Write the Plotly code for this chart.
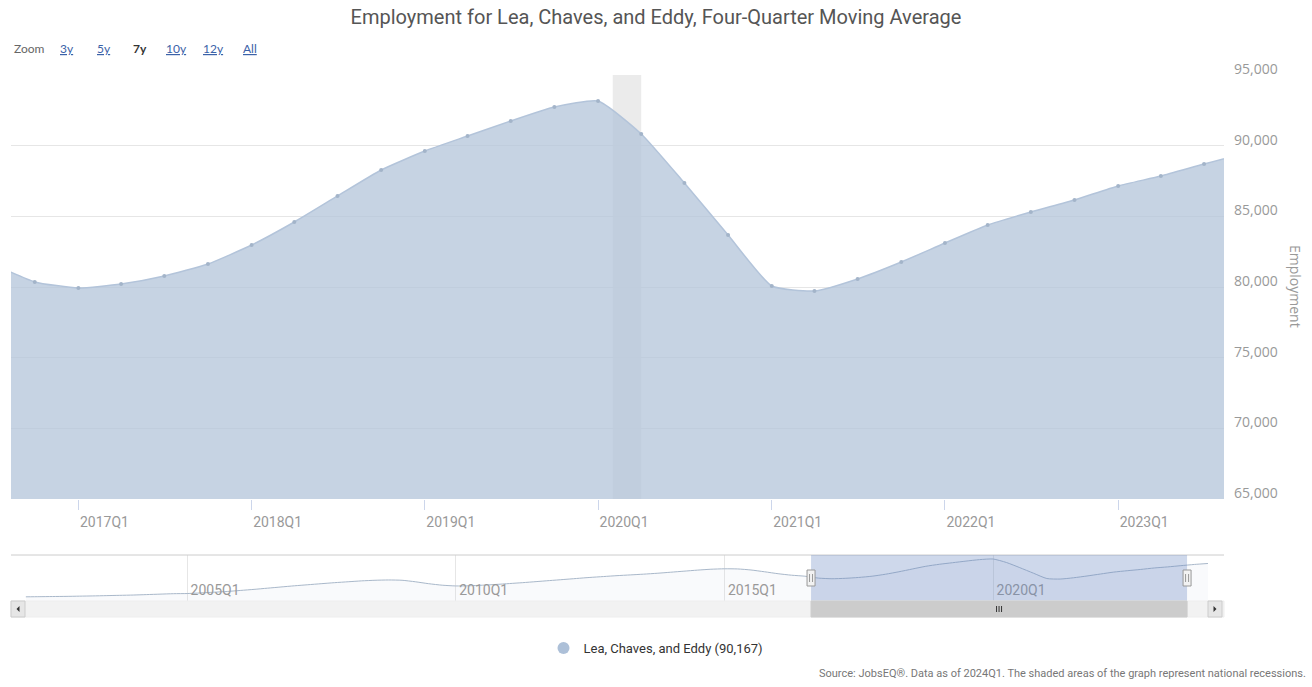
import pandas as pd
import plotly.graph_objects as go

# ---------------------------------------------------------------------------
# Data: four-quarter moving average of employment, Lea + Chaves + Eddy counties
# ---------------------------------------------------------------------------
first_quarter = "2002Q1"
last_quarter = "2024Q1"

employment = [
    67800, 67900, 68000, 68100,   # 2002
    68250, 68400, 68600, 68800,   # 2003
    69000, 69300, 69600, 69900,   # 2004
    70000, 70400, 70900, 71400,   # 2005
    72100, 72800, 73600, 74400,   # 2006
    75200, 75900, 76600, 77300,   # 2007
    77900, 78500, 78900, 79100,   # 2008
    78900, 77900, 76600, 75600,   # 2009
    75100, 75200, 75600, 76100,   # 2010
    76700, 77300, 78000, 78700,   # 2011
    79400, 80100, 80800, 81400,   # 2012
    82000, 82500, 83000, 83600,   # 2013
    84300, 85000, 85700, 86300,   # 2014
    86600, 86500, 85800, 84600,   # 2015
    83300, 82300, 81630, 80360,   # 2016
    79930, 80210, 80780, 81630,   # 2017
    82970, 84600, 86440, 88280,   # 2018
    89620, 90680, 91750, 92740,   # 2019
    93160, 90830, 87360, 83680,   # 2020
    80070, 79720, 80570, 81770,   # 2021
    83110, 84390, 85310, 86160,   # 2022
    87150, 87850, 88700, 89510,   # 2023
    90167,                        # 2024
]

series_name = "Lea, Chaves, and Eddy"

# national recessions (shaded bands)
recession_starts = ["2007-12-01", "2020-02-01"]
recession_ends = ["2009-06-01", "2020-04-01"]

# main-axis ticks
main_tick_dates = ["2017-01-01", "2018-01-01", "2019-01-01", "2020-01-01",
                   "2021-01-01", "2022-01-01", "2023-01-01"]
main_tick_labels = ["2017Q1", "2018Q1", "2019Q1", "2020Q1",
                    "2021Q1", "2022Q1", "2023Q1"]

# navigator ticks
nav_tick_dates = ["2005-01-01", "2010-01-01", "2015-01-01", "2020-01-01"]
nav_tick_labels = ["2005Q1", "2010Q1", "2015Q1", "2020Q1"]

y_tick_values = [65000, 70000, 75000, 80000, 85000, 90000, 95000]

zoom_buttons = ["3y", "5y", "7y", "10y", "12y", "All"]
active_button = "7y"

# visible window (7 years) and navigator extent
view_start, view_end = "2016-08-12", "2023-08-12"
nav_start, nav_end = "2001-09-22", "2024-04-19"

quarters = pd.period_range(first_quarter, last_quarter, freq="Q")
dates = quarters.to_timestamp()
quarter_labels = [str(q) for q in quarters]

# ---------------------------------------------------------------------------
# Geometry helpers (pixel -> paper)
# ---------------------------------------------------------------------------
W, H = 1312, 687
ML, MR, MT, MB = 11, 88, 75, 70
PW, PH = W - ML - MR, H - MT - MB


def px(x):
    return (x - ML) / PW


def py(y):
    return (H - MB - y) / PH


AREA_FILL = "rgba(179,196,218,0.75)"
AREA_LINE = "#b3c4da"
TICK_GRAY = "#999999"
FONT = "Roboto"

fig = go.Figure()

# main area series
fig.add_trace(go.Scatter(
    x=dates, y=employment, customdata=quarter_labels,
    mode="lines+markers", fill="tozeroy", fillcolor=AREA_FILL,
    line=dict(color=AREA_LINE, width=1.5, shape="spline", smoothing=0.5),
    marker=dict(size=4, color="#a3b4c9"),
    name=series_name, showlegend=False,
    hovertemplate="%{customdata}<br>" + series_name + ": %{y:,}<extra></extra>",
    xaxis="x", yaxis="y",
))

# navigator series (full history)
fig.add_trace(go.Scatter(
    x=dates, y=employment, mode="lines", fill="tozeroy",
    fillcolor="rgba(179,196,218,0.08)",
    line=dict(color="#a9b8ca", width=1, shape="spline", smoothing=0.6),
    showlegend=False, hoverinfo="skip",
    xaxis="x2", yaxis="y2",
))

# legend entry carrying the latest value
fig.add_trace(go.Scatter(
    x=[None], y=[None], mode="markers",
    marker=dict(size=12, color="#adc0d8", symbol="circle"),
    name=f"{series_name} ({employment[-1]:,})",
    showlegend=True, xaxis="x", yaxis="y",
))

shapes = []

# recession bands
for s, e in zip(recession_starts, recession_ends):
    shapes.append(dict(type="rect", xref="x", yref="y domain",
                       x0=s, x1=e, y0=0, y1=1, fillcolor="#ebebeb",
                       line=dict(width=0), layer="below"))

# navigator frame line
shapes.append(dict(type="line", xref="x2 domain", yref="y2 domain",
                   x0=0, x1=1, y0=1, y1=1,
                   line=dict(color="#cccccc", width=1)))

# navigator selection mask
shapes.append(dict(type="rect", xref="x2", yref="y2 domain",
                   x0=view_start, x1=view_end, y0=0, y1=1,
                   fillcolor="rgba(102,133,194,0.32)", line=dict(width=0),
                   layer="above"))

# scrollbar track
shapes.append(dict(type="rect", xref="x2 domain", yref="paper",
                   x0=0, x1=1, y0=py(617), y1=py(601),
                   fillcolor="#f2f2f2", line=dict(color="#eeeeee", width=1)))

# scrollbar thumb
shapes.append(dict(type="rect", xref="x2", yref="paper",
                   x0=view_start, x1=view_end, y0=py(617), y1=py(601),
                   fillcolor="#cccccc", line=dict(color="#cccccc", width=1)))

# thumb grip
mid = pd.Timestamp(view_start) + (pd.Timestamp(view_end) - pd.Timestamp(view_start)) / 2
for dx in (-2.5, 0, 2.5):
    shapes.append(dict(type="line", xref="x2", yref="paper", xsizemode="pixel",
                       xanchor=mid, x0=dx, x1=dx, y0=py(612), y1=py(606),
                       line=dict(color="#333333", width=1)))

# scrollbar arrow buttons
for bx0, bx1 in ((11, 25), (1208, 1222)):
    shapes.append(dict(type="rect", xref="paper", yref="paper",
                       x0=px(bx0), x1=px(bx1), y0=py(617), y1=py(601),
                       fillcolor="#e6e6e6", line=dict(color="#cccccc", width=1)))
shapes.append(dict(type="path", xref="paper", yref="paper",
                   xsizemode="pixel", ysizemode="pixel",
                   xanchor=px(18), yanchor=py(609),
                   path="M 1.5 -3 L -1.5 0 L 1.5 3 Z",
                   fillcolor="#333333", line=dict(width=0)))
shapes.append(dict(type="path", xref="paper", yref="paper",
                   xsizemode="pixel", ysizemode="pixel",
                   xanchor=px(1215), yanchor=py(609),
                   path="M -1.5 -3 L 1.5 0 L -1.5 3 Z",
                   fillcolor="#333333", line=dict(width=0)))

# navigator handles
for edge in (view_start, view_end):
    shapes.append(dict(type="rect", xref="x2", yref="y2 domain",
                       xsizemode="pixel", ysizemode="pixel",
                       xanchor=edge, yanchor=0.5,
                       x0=-4, x1=4, y0=-8, y1=8,
                       fillcolor="#f2f2f2", line=dict(color="#999999", width=1),
                       layer="above"))
    for dx in (-1.5, 1.5):
        shapes.append(dict(type="line", xref="x2", yref="y2 domain",
                           xsizemode="pixel", ysizemode="pixel",
                           xanchor=edge, yanchor=0.5,
                           x0=dx, x1=dx, y0=-4, y1=4,
                           line=dict(color="#999999", width=1),
                           layer="above"))

annotations = []

# range-selector row
annotations.append(dict(text="Zoom", xref="paper", yref="paper",
                        x=px(12), y=py(49), xanchor="left", yanchor="middle",
                        showarrow=False,
                        font=dict(family="Lato", size=12, color="#666666")))
for i, lab in enumerate(zoom_buttons):
    active = lab == active_button
    annotations.append(dict(
        text=f"<b>{lab}</b>" if active else lab,
        xref="paper", yref="paper", x=px(67 + 36.6 * i), y=py(49),
        xanchor="center", yanchor="middle", showarrow=False,
        font=dict(family="Lato", size=12,
                  color="#333333" if active else "#3b62a8",
                  lineposition="none" if active else "under"),
    ))

# y-axis title (reads top to bottom)
annotations.append(dict(text="Employment", xref="paper", yref="paper",
                        x=px(1296), y=py(287), textangle=90,
                        xanchor="center", yanchor="middle", showarrow=False,
                        font=dict(family="Open Sans", size=14, color="#999999")))

# source note
annotations.append(dict(
    text="Source: JobsEQ®. Data as of 2024Q1. The shaded areas of the graph represent national recessions.",
    xref="paper", yref="paper", x=px(1308), y=py(673),
    xanchor="right", yanchor="middle", showarrow=False,
    font=dict(family=FONT, size=11, color="#777777")))

fig.update_layout(
    width=W, height=H,
    margin=dict(l=ML, r=MR, t=MT, b=MB, autoexpand=False),
    paper_bgcolor="white", plot_bgcolor="white",
    title=dict(text="Employment for Lea, Chaves, and Eddy, Four-Quarter Moving Average",
               x=0.5, xref="container", xanchor="center",
               y=1 - 17 / H, yref="container", yanchor="middle",
               font=dict(family=FONT, size=20, color="#555555")),
    xaxis=dict(type="date", range=[view_start, view_end], domain=[0, 1],
               anchor="y", tickvals=main_tick_dates, ticktext=main_tick_labels,
               ticks="outside", ticklen=10, tickcolor="#ccd6eb",
               ticklabelshift=26,
               tickfont=dict(family=FONT, size=14, color=TICK_GRAY),
               showgrid=False, showline=False, zeroline=False),
    yaxis=dict(domain=[py(499), 1], range=[65000, 95000], side="right",
               anchor="x", tickvals=y_tick_values, tickformat=",",
               gridcolor="#e6e6e6", showline=False, zeroline=False,
               ticklabelshift=-6, ticklabelstandoff=9,
               tickfont=dict(family="Open Sans", size=14, color=TICK_GRAY)),
    xaxis2=dict(type="date", range=[nav_start, nav_end], domain=[0, 1],
                anchor="y2", tickvals=nav_tick_dates, ticktext=nav_tick_labels,
                ticks="", ticklabelposition="inside", ticklabelshift=28,
                tickfont=dict(family=FONT, size=14, color=TICK_GRAY),
                showgrid=True, gridcolor="#e6e6e6", showline=False,
                zeroline=False),
    yaxis2=dict(domain=[py(601), py(555)], range=[65000, 95850], anchor="x2",
                showgrid=False, showticklabels=False, zeroline=False,
                showline=False),
    legend=dict(orientation="h", xref="container", x=0.5, xanchor="center",
                yref="container", y=1 - 648 / H, yanchor="middle",
                font=dict(family=FONT, size=13, color="#333333"),
                bgcolor="rgba(0,0,0,0)"),
    shapes=shapes,
    annotations=annotations,
    hovermode="x unified",
)

fig.write_html("out.html")
